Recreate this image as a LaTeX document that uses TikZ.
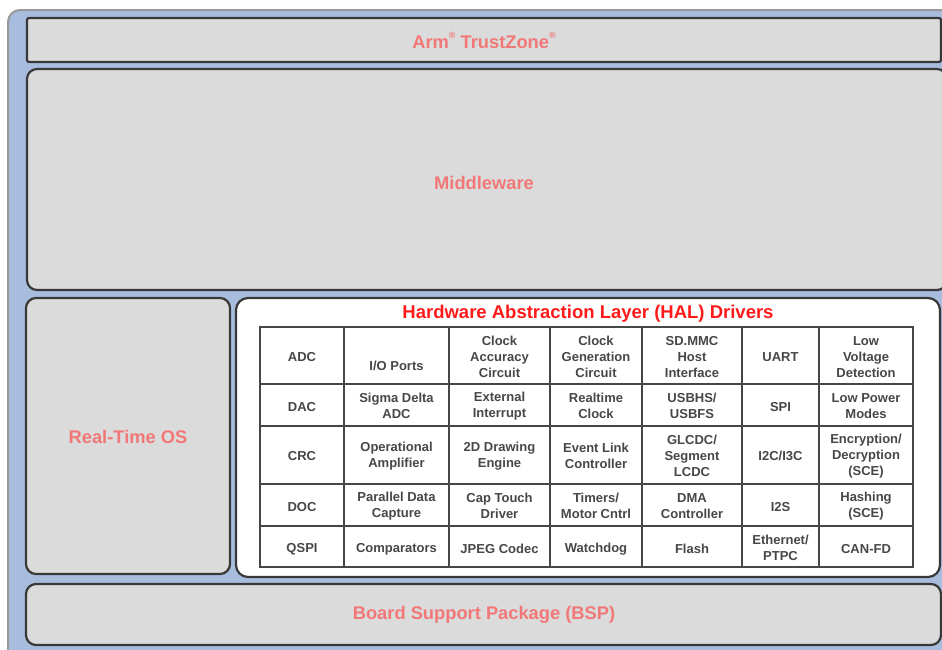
\documentclass[tikz,border=0pt]{standalone}
\usepackage{fontspec}
\setmainfont{Liberation Sans}
\usepackage{tikz}
\usetikzlibrary{calc,positioning}
\definecolor{frameblue}{HTML}{A8BDDE}
\definecolor{layergray}{HTML}{DBDBDB}
\definecolor{edgedark}{HTML}{383838}
\definecolor{labelpink}{HTML}{F27878}
\definecolor{halred}{HTML}{FF1A1A}
\definecolor{cellgray}{HTML}{474747}
\newcommand{\regmark}{\raisebox{0.55em}{\fontsize{9}{9}\selectfont ®}}
\tikzset{
  layerbox/.style={draw=edgedark, fill=layergray, line width=2.2pt, rounded corners=10pt},
  layerlabel/.style={text=labelpink, font=\bfseries\fontsize{18.3}{20}\selectfont},
  halcell/.style={text=cellgray, align=center, font=\bfseries\fontsize{13}{16}\selectfont, yshift=-1pt},
  gridline/.style={draw=cellgray, line width=1.2pt}
}

\begin{document}
\begin{tikzpicture}[x=1pt,y=-1pt]
\useasboundingbox (0,0) rectangle (942,649);
\clip (0,0) rectangle (942,649);
% frame and layers
\draw[fill=frameblue, draw=gray!80, line width=2pt, rounded corners=12pt] (8,10) rectangle (970,680);
\draw[layerbox, rounded corners=2pt] (27,18) rectangle (941,62); \node[layerlabel] (trustzone) at (484,40) {Arm\regmark\ TrustZone\regmark};
\draw[layerbox] (27,69) rectangle (947,290); \node[layerlabel] (middleware) at (484,183) {Middleware};
\draw[layerbox] (26,298) rectangle (230,574); \node[layerlabel] (rtos) at (128,437) {Real-Time OS};
\draw[layerbox, fill=white, rounded corners=12pt] (236,298) rectangle (940,577); \node[text=halred, font=\bfseries\fontsize{18.5}{20}\selectfont] (haltitle) at (588,314) {Hardware Abstraction Layer (HAL) Drivers};
\draw[layerbox] (26,584) rectangle (941,645); \node[layerlabel] (bsp) at (484,615) {Board Support Package (BSP)};

% driver table
\draw[gridline] (260,327) rectangle (913,567);
\draw[gridline] (344,327) -- (344,567); \draw[gridline] (449,327) -- (449,567); \draw[gridline] (550,327) -- (550,567);
\draw[gridline] (642,327) -- (642,567); \draw[gridline] (742,327) -- (742,567); \draw[gridline] (819,327) -- (819,567);
\draw[gridline] (260,384) -- (913,384); \draw[gridline] (260,426) -- (913,426);
\draw[gridline] (260,484) -- (913,484); \draw[gridline] (260,526) -- (913,526);

\node[halcell] (adc) at (302,356) {ADC}; \node[halcell] (ioports) at (396.5,365) {I/O Ports};
\node[halcell] (clkacc) at (499.5,356) {Clock\\Accuracy\\Circuit}; \node[halcell] (clkgen) at (596,356) {Clock\\Generation\\Circuit};
\node[halcell] (sdmmc) at (692,356) {SD.MMC\\Host\\Interface}; \node[halcell] (uart) at (780.5,356) {UART};
\node[halcell] (lvd) at (866,356) {Low\\Voltage\\Detection};

\node[halcell] (dac) at (302,406) {DAC}; \node[halcell] (sdadc) at (396.5,405) {Sigma Delta\\ADC};
\node[halcell] (extint) at (499.5,405) {External\\Interrupt}; \node[halcell] (rtc) at (596,405) {Realtime\\Clock};
\node[halcell] (usb) at (692,405) {USBHS/\\USBFS}; \node[halcell] (spi) at (780.5,406) {SPI};
\node[halcell] (lpm) at (866,405) {Low Power\\Modes};

\node[halcell] (crc) at (302,455) {CRC}; \node[halcell] (opamp) at (396.5,455) {Operational\\Amplifier};
\node[halcell] (drw) at (499.5,455) {2D Drawing\\Engine}; \node[halcell] (elc) at (596,455) {Event Link\\Controller};
\node[halcell] (glcdc) at (692,455) {GLCDC/\\Segment\\LCDC}; \node[halcell] (iic) at (780.5,455) {I2C/I3C};
\node[halcell] (sce) at (866,455) {Encryption/\\Decryption\\(SCE)};

\node[halcell] (doc) at (302,506) {DOC}; \node[halcell] (pdc) at (396.5,505) {Parallel Data\\Capture};
\node[halcell] (ctsu) at (499.5,505) {Cap Touch\\Driver}; \node[halcell] (timers) at (596,505) {Timers/\\Motor Cntrl};
\node[halcell] (dma) at (692,505) {DMA\\Controller}; \node[halcell] (iis) at (780.5,506) {I2S};
\node[halcell] (hash) at (866,505) {Hashing\\(SCE)};

\node[halcell] (qspi) at (302,548) {QSPI}; \node[halcell] (comp) at (396.5,548) {Comparators};
\node[halcell] (jpeg) at (499.5,548) {JPEG Codec}; \node[halcell] (wdt) at (596,548) {Watchdog};
\node[halcell] (flash) at (692,548) {Flash}; \node[halcell] (ether) at (780.5,547) {Ethernet/\\PTPC};
\node[halcell] (canfd) at (866,548) {CAN-FD};
\end{tikzpicture}
\end{document}
